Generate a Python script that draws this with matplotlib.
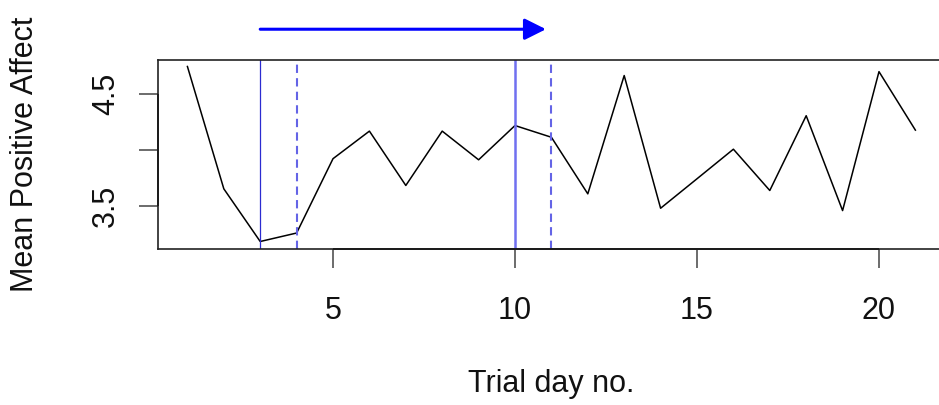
import matplotlib
matplotlib.use('Agg')
import matplotlib.pyplot as plt

# --- Data ---
days = list(range(1, 22))
positive_affect = [4.746, 3.65, 3.178, 3.254, 3.92, 4.167, 3.68, 4.167, 3.91, 4.217,
                   4.112, 3.605, 4.665, 3.476, 3.74, 4.005, 3.635, 4.305, 3.455, 4.70, 4.176]

x_ticks = [5, 10, 15, 20]
y_ticks = [3.5, 4.0, 4.5]
y_tick_labels = ['3.5', '', '4.5']

solid_days = [3, 10]
dashed_days = [4, 11]
arrow_start, arrow_end, arrow_y = 3, 10.85, 5.08

plt.rcParams['font.family'] = ['Liberation Sans', 'DejaVu Sans']

fig = plt.figure(figsize=(9.39, 4.05), dpi=100)
ax = fig.add_axes([158.3 / 939, 156.5 / 405, 786.2 / 939, 189 / 405])

ax.plot(days, positive_affect, color='black', lw=1.1)

# R-style 4% padding of the data range
xr = max(days) - min(days)
yr = max(positive_affect) - min(positive_affect)
ax.set_xlim(min(days) - 0.04 * xr, max(days) + 0.04 * xr)
ax.set_ylim(min(positive_affect) - 0.04 * yr, max(positive_affect) + 0.04 * yr)

# marker lines
ax.axvline(solid_days[0], color='#2b2bd0', lw=0.9)
ax.axvline(solid_days[1], color='#7070f0', lw=1.8)
for d in dashed_days:
    ax.axvline(d, color='#6464e6', lw=1.5, dashes=(4, 2.5))

# arrow above the plot box
ax.annotate('', xy=(arrow_end, arrow_y), xytext=(arrow_start, arrow_y),
            xycoords='data', annotation_clip=False,
            arrowprops=dict(arrowstyle='-|>,head_length=1.0,head_width=0.5',
                            mutation_scale=13, lw=2.2, color='blue',
                            shrinkA=0, shrinkB=0))

# axes / box
for s in ax.spines.values():
    s.set_color('#222222')
    s.set_linewidth(1.2)
ax.hlines(ax.get_ylim()[0], x_ticks[0], x_ticks[-1], color='black', lw=1.4, clip_on=False)
ax.vlines(ax.get_xlim()[0], y_ticks[0], y_ticks[-1], color='black', lw=1.4, clip_on=False)

ax.set_xticks(x_ticks)
ax.set_yticks(y_ticks, y_tick_labels)
ax.tick_params(axis='both', length=13.7, width=1.1, color='#444444',
               labelsize=22, labelcolor='#111111')
ax.tick_params(axis='x', pad=20.5)
ax.tick_params(axis='y', pad=13, labelrotation=90)
for lab in ax.get_yticklabels():
    lab.set_va('center')

ax.set_xlabel('Trial day no.', fontsize=22, color='#111111')
ax.xaxis.set_label_coords(0.5, -0.64)
ax.set_ylabel('Mean Positive Affect', fontsize=22, color='#111111')
ax.yaxis.set_label_coords(-0.151, 0.5)

fig.savefig('out.png', dpi=100)
